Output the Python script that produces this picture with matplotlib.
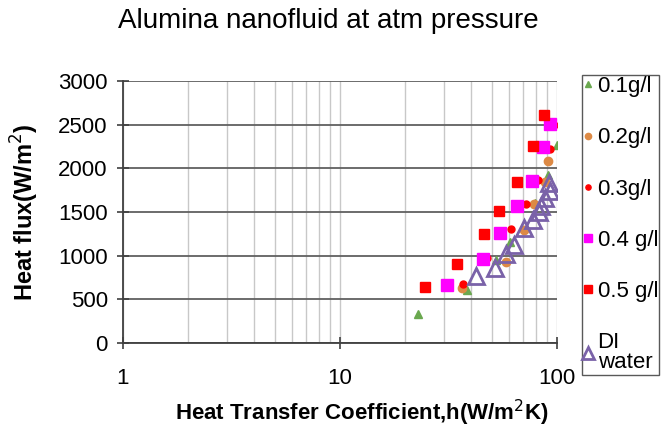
import matplotlib.pyplot as plt
from matplotlib.ticker import FixedLocator, NullFormatter, FixedFormatter

plt.rcParams['font.family'] = ['Liberation Sans', 'DejaVu Sans']

# Данные: h (W/m2K), q (W/m2)
h_01 = [22.9, 38.4, 52.4, 60.9, 79.2, 90.6, 99.6]
q_01 = [330, 610, 950, 1160, 1600, 1920, 2270]

h_02 = [36.4, 58.0, 70.5, 78.6, 87.8, 90.9]
q_02 = [630, 930, 1290, 1590, 1840, 2080]

h_03 = [37.0, 47.7, 61.5, 72.0, 81.7, 92.8, 96.9]
q_03 = [675, 970, 1300, 1590, 1870, 2225, 2500]

h_04 = [31.2, 45.8, 54.4, 65.2, 76.9, 86.2, 92.8]
q_04 = [660, 960, 1255, 1570, 1860, 2245, 2505]

h_05 = [24.6, 34.5, 46.1, 54.1, 65.4, 77.5, 86.9]
q_05 = [640, 905, 1250, 1515, 1840, 2255, 2615]

h_di = [42.2, 51.6, 58.4, 63.6, 70.5, 77.5, 82.4, 84.4, 87.8, 92.8, 92.2]
q_di = [770, 860, 1015, 1120, 1315, 1410, 1500, 1570, 1665, 1735, 1830]

fig = plt.figure(figsize=(6.61, 4.37), dpi=100)
ax = fig.add_axes([123/661, 1 - 343/437, (557 - 123)/661, (343 - 81)/437])

ax.plot(h_01, q_01, '^', color='#6aa84f', ms=6, mec='#6aa84f', label='0.1g/l', zorder=4)
ax.plot(h_02, q_02, 'o', color='#dd8a45', ms=6, mec='#dd8a45', label='0.2g/l', zorder=4)
ax.plot(h_03, q_03, 'o', color='#ff0000', ms=5, mec='#ff0000', label='0.3g/l', zorder=4)
ax.plot(h_04, q_04, 's', color='#ff00ff', ms=8, mec='#ff00ff', label='0.4 g/l', zorder=5)
ax.plot(h_05, q_05, 's', color='#ff0000', ms=7, mec='#ff0000', label='0.5 g/l', zorder=5)
ax.plot(h_di, q_di, '^', mfc='none', mec='#7a62a8', mew=2, ms=11, label='DI\nwater', zorder=6)

ax.set_xscale('log')
ax.set_xlim(1, 100)
ax.set_ylim(0, 3000)
ax.set_yticks(range(0, 3001, 500))
ax.xaxis.set_major_locator(FixedLocator([1, 10, 100]))
ax.xaxis.set_major_formatter(FixedFormatter(['1', '10', '100']))
ax.xaxis.set_minor_locator(FixedLocator([m * d for d in (1, 10) for m in range(2, 10)]))
ax.xaxis.set_minor_formatter(NullFormatter())

# Сетка
ax.grid(True, axis='y', which='major', color='#606060', lw=1.3)
ax.grid(True, axis='x', which='both', color='#c8c8c8', lw=1.0)
ax.set_axisbelow(True)

for s in ('top', 'right'):
    ax.spines[s].set_visible(False)
for s in ('left', 'bottom'):
    ax.spines[s].set_color('#404040')
    ax.spines[s].set_linewidth(1.3)

ax.tick_params(axis='both', which='major', direction='inout', length=8, width=1.2,
               labelsize=16, colors='#404040', labelcolor='black')
ax.tick_params(axis='x', which='minor', length=0)
ax.tick_params(axis='x', which='major', pad=14)
ax.tick_params(axis='y', which='major', pad=7)

ax.set_xlabel('Heat Transfer Coefficient,h(W/m$^2$K)', fontsize=16, fontweight='bold')
ax.xaxis.set_label_coords((362 - 123) / 434, -(398 - 343) / 262)
ax.set_ylabel('Heat flux(W/m$^2$)', fontsize=17, fontweight='bold', labelpad=12)

fig.text(328/661, 1 - 21/437, 'Alumina nanofluid at atm pressure', fontsize=20,
         ha='center', va='center')

leg = fig.legend(loc='upper left', bbox_to_anchor=(582/661, 1 - 75/437), frameon=True,
                 fontsize=16, labelspacing=1.36, handlelength=0.45, handletextpad=0.2,
                 borderpad=0.05, borderaxespad=0, fancybox=False, markerscale=0.75)
leg.get_texts()[-1].set_linespacing(0.95)
leg.get_frame().set_edgecolor('#303030')
leg.get_frame().set_linewidth(1.0)

fig.savefig('out.png', dpi=100, facecolor='white')
